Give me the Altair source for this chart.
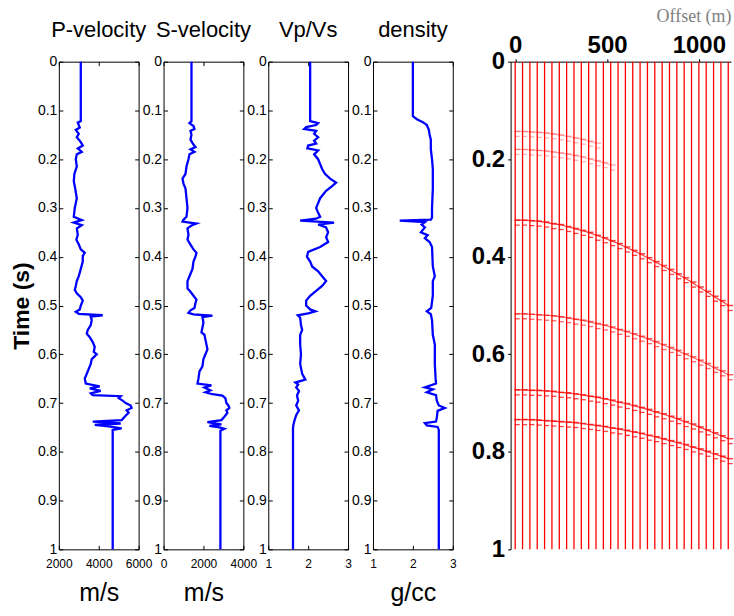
import altair as alt
import pandas as pd

# ---------------- data ----------------
time_ticks = [0, 0.1, 0.2, 0.3, 0.4, 0.5, 0.6, 0.7, 0.8, 0.9, 1.0]
seis_time_ticks = [0, 0.2, 0.4, 0.6, 0.8, 1.0]

p_time = [0.000, 0.122, 0.125, 0.135, 0.140, 0.148, 0.155, 0.165, 0.172, 0.178, 0.185, 0.190,
          0.200, 0.215, 0.230, 0.245, 0.260, 0.280, 0.300, 0.318, 0.325, 0.330, 0.335, 0.342,
          0.355, 0.365, 0.375, 0.385, 0.392, 0.398, 0.410, 0.425, 0.440, 0.450, 0.460, 0.468,
          0.475, 0.483, 0.490, 0.500, 0.508, 0.513, 0.517, 0.520, 0.523, 0.530, 0.540, 0.550,
          0.558, 0.565, 0.575, 0.585, 0.595, 0.600, 0.610, 0.620, 0.630, 0.640, 0.650, 0.660,
          0.666, 0.670, 0.675, 0.680, 0.684, 0.686, 0.690, 0.695, 0.700, 0.705, 0.710, 0.715,
          0.720, 0.728, 0.735, 0.738, 0.742, 0.745, 0.748, 0.752, 0.755, 1.000]
p_vel = [3100, 3100, 2950, 3050, 2850, 3000, 2900, 3100, 3200, 2950, 3150, 2900,
         2850, 2900, 2780, 2750, 2820, 2900, 2800, 2750, 3150, 2750, 3150, 2900,
         2950, 2880, 3000, 3100, 3300, 3200, 3200, 3100, 3000, 2900, 2850, 2800,
         2900, 3100, 3200, 3100, 3050, 2850, 3000, 4200, 3600, 3650, 3600, 3450,
         3400, 3550, 3700, 3800, 3750, 3900, 3650, 3600, 3500, 3400, 3300, 3350,
         4050, 3550, 4100, 3600, 3700, 5100, 5000, 5200, 5350, 5600, 5650, 5400,
         5500, 5300, 5150, 3700, 5100, 3800, 4500, 5150, 4700, 4700]

s_time = [0.000, 0.122, 0.126, 0.132, 0.138, 0.142, 0.150, 0.160, 0.170, 0.175, 0.180, 0.185,
          0.190, 0.200, 0.215, 0.230, 0.240, 0.250, 0.260, 0.280, 0.300, 0.318, 0.324, 0.328,
          0.332, 0.336, 0.342, 0.355, 0.365, 0.375, 0.385, 0.392, 0.400, 0.410, 0.425, 0.440,
          0.450, 0.465, 0.472, 0.480, 0.488, 0.495, 0.505, 0.510, 0.515, 0.518, 0.521, 0.524,
          0.535, 0.545, 0.555, 0.560, 0.570, 0.580, 0.590, 0.600, 0.610, 0.625, 0.635, 0.650,
          0.660, 0.664, 0.668, 0.674, 0.678, 0.682, 0.685, 0.690, 0.700, 0.705, 0.710, 0.715,
          0.720, 0.728, 0.735, 0.739, 0.744, 0.747, 0.750, 0.753, 0.757, 1.000]
s_vel = [1400, 1400, 1300, 1500, 1550, 1350, 1400, 1350, 1500, 1600, 1350, 1550,
         1300, 1250, 1150, 1100, 950, 1000, 1100, 1150, 1200, 1150, 1000, 950,
         1650, 1400, 1200, 1250, 1200, 1350, 1500, 1650, 1600, 1500, 1450, 1300,
         1200, 1200, 1350, 1500, 1650, 1600, 1550, 1350, 1250, 1500, 2450, 1950,
         2000, 1950, 1900, 2050, 2100, 2150, 2200, 2100, 2000, 1950, 1800, 1750,
         1700, 2400, 2050, 2350, 2100, 2450, 2950, 3100, 3150, 3250, 3300, 3150,
         3200, 3050, 2900, 2200, 2900, 2300, 2800, 3050, 2850, 2850]

r_time = [0.000, 0.122, 0.126, 0.130, 0.134, 0.138, 0.142, 0.148, 0.155, 0.162, 0.168, 0.172,
          0.178, 0.182, 0.190, 0.200, 0.210, 0.220, 0.230, 0.240, 0.248, 0.255, 0.265, 0.280,
          0.290, 0.300, 0.310, 0.318, 0.322, 0.326, 0.330, 0.334, 0.340, 0.350, 0.360, 0.370,
          0.380, 0.390, 0.400, 0.410, 0.420, 0.430, 0.440, 0.450, 0.460, 0.470, 0.480, 0.490,
          0.500, 0.508, 0.512, 0.516, 0.520, 0.525, 0.540, 0.550, 0.560, 0.580, 0.600, 0.620,
          0.640, 0.652, 0.658, 0.662, 0.668, 0.675, 0.685, 0.695, 0.705, 0.715, 0.725, 0.735,
          0.745, 0.752, 1.000]
r_val = [2.05, 2.05, 2.25, 2.20, 1.95, 1.90, 2.20, 2.15, 2.25, 2.15, 2.20, 2.00,
         1.98, 2.25, 2.15, 2.25, 2.30, 2.35, 2.42, 2.55, 2.70, 2.60, 2.45, 2.30,
         2.25, 2.20, 2.25, 2.30, 2.20, 1.80, 2.65, 2.25, 2.45, 2.50, 2.45, 2.50,
         2.30, 2.00, 1.97, 2.05, 2.10, 2.25, 2.35, 2.45, 2.35, 2.20, 2.05, 1.95,
         1.95, 2.05, 2.18, 2.00, 1.74, 1.80, 1.82, 1.85, 1.80, 1.80, 1.82, 1.80,
         1.85, 1.93, 1.68, 1.75, 1.70, 1.77, 1.72, 1.75, 1.70, 1.77, 1.70, 1.66,
         1.63, 1.62, 1.62]

d_time = [0.000, 0.112, 0.118, 0.124, 0.130, 0.140, 0.150, 0.160, 0.180, 0.200, 0.220, 0.260,
          0.300, 0.320, 0.324, 0.326, 0.329, 0.334, 0.340, 0.350, 0.356, 0.362, 0.370, 0.380,
          0.420, 0.440, 0.450, 0.480, 0.505, 0.512, 0.518, 0.530, 0.560, 0.580, 0.620, 0.650,
          0.660, 0.668, 0.672, 0.678, 0.684, 0.695, 0.705, 0.710, 0.716, 0.730, 0.738, 0.741,
          0.746, 0.749, 0.755, 1.000]
d_val = [2.00, 2.00, 2.10, 2.25, 2.35, 2.40, 2.42, 2.45, 2.45, 2.48, 2.50, 2.50,
         2.48, 2.48, 2.45, 1.67, 2.30, 2.22, 2.30, 2.20, 2.37, 2.30, 2.42, 2.48,
         2.50, 2.55, 2.50, 2.50, 2.46, 2.35, 2.45, 2.48, 2.50, 2.55, 2.55, 2.57,
         2.58, 2.30, 2.50, 2.35, 2.58, 2.60, 2.65, 2.80, 2.62, 2.60, 2.58, 2.30,
         2.35, 2.62, 2.65, 2.65]

trace_offsets = [0, 40, 80, 120, 160, 200, 240, 280, 320, 360, 400, 440, 480, 520, 560,
                 600, 640, 680, 720, 760, 800, 840, 880, 920, 960, 1000, 1040, 1080, 1120, 1160]

event_a = [0.325, 0.325, 0.326, 0.327, 0.329, 0.332, 0.334, 0.338, 0.342, 0.346, 0.350, 0.356,
           0.361, 0.367, 0.373, 0.380, 0.387, 0.394, 0.402, 0.410, 0.418, 0.426, 0.435, 0.443,
           0.452, 0.462, 0.471, 0.481, 0.490, 0.500]
event_b = [0.517, 0.517, 0.518, 0.519, 0.520, 0.521, 0.523, 0.525, 0.528, 0.530, 0.533, 0.537,
           0.540, 0.544, 0.549, 0.553, 0.558, 0.563, 0.568, 0.574, 0.580, 0.586, 0.592, 0.599,
           0.605, 0.612, 0.619, 0.627, 0.634, 0.642]
event_c = [0.673, 0.673, 0.674, 0.674, 0.675, 0.676, 0.678, 0.679, 0.681, 0.683, 0.686, 0.688,
           0.691, 0.694, 0.698, 0.701, 0.705, 0.709, 0.713, 0.718, 0.722, 0.727, 0.732, 0.738,
           0.743, 0.749, 0.755, 0.761, 0.767, 0.773]
event_d = [0.734, 0.734, 0.734, 0.735, 0.736, 0.737, 0.738, 0.739, 0.740, 0.742, 0.744, 0.746,
           0.748, 0.751, 0.753, 0.756, 0.759, 0.762, 0.766, 0.769, 0.773, 0.777, 0.781, 0.785,
           0.790, 0.794, 0.799, 0.804, 0.809, 0.814]
event_e1 = [0.143, 0.143, 0.144, 0.145, 0.146, 0.148, 0.150, 0.153, 0.156, 0.159, 0.163, 0.167]
event_e2 = [0.180, 0.180, 0.181, 0.182, 0.183, 0.185, 0.187, 0.189, 0.192, 0.195, 0.199, 0.203,
            0.207, 0.212]

# ---------------- styling ----------------
SANS = "'Liberation Sans', Arial, sans-serif"
SERIF = "'Liberation Serif', 'Times New Roman', serif"
BLUE = "#0000ff"
RED = "#ff0000"
PANEL_H = 489


def log_panel(times, vals, name, xdom, xticks, unit, first):
    df = pd.DataFrame({"t": times, "v": vals, "k": list(range(len(times)))})
    yargs = dict(values=time_ticks, format="~g", tickSize=4, offset=-4, domain=False, grid=False,
                 labelFont=SANS, labelFontSize=14, labelPadding=2, labelFlush=False,
                 labelOverlap=False)
    if first:
        yargs.update(title="Time (s)", titleFont=SANS, titleFontSize=23, titleFontWeight="bold",
                     titlePadding=4)
    else:
        yargs.update(title=None)
    xargs = dict(values=[float(v) for v in xticks], labelExpr="format(datum.value, 'd')",
                 tickSize=4, offset=-4, domain=False, grid=False,
                 labelFont=SANS, labelFontSize=12, labelPadding=9, labelFlush=False,
                 labelOverlap=False, labelBound=False)
    if unit:
        xargs.update(title=unit, titleFont=SANS, titleFontSize=25, titleFontWeight="normal",
                     titlePadding=11)
    else:
        xargs.update(title=None)
    xs = alt.Scale(domain=xdom, nice=False, zero=False)
    ys = alt.Scale(domain=[0, 1], reverse=True, nice=False, zero=False)
    line = alt.Chart(df).mark_line(color=BLUE, strokeWidth=2.3).encode(
        x=alt.X("v:Q", scale=xs, axis=alt.Axis(**xargs)),
        y=alt.Y("t:Q", scale=ys, axis=alt.Axis(**yargs)),
        order="k:Q",
    )
    mirror = alt.Chart(df).mark_line(opacity=0).encode(
        x=alt.X("v:Q", scale=xs, axis=alt.Axis(orient="top", values=xticks, labels=False, tickSize=4,
                                               offset=-4, domain=False, grid=False, title=None)),
        y=alt.Y("t:Q", scale=ys, axis=alt.Axis(orient="right", values=time_ticks, labels=False,
                                               tickSize=4, offset=-4, domain=False, grid=False,
                                               title=None)),
        order="k:Q",
    )
    return alt.layer(line, mirror).resolve_axis(x="independent", y="independent").properties(
        width=80, height=PANEL_H,
        title=alt.Title(name, font=SANS, fontSize=22, fontWeight="normal", offset=13, anchor="middle"),
    )


p_chart = log_panel(p_time, p_vel, "P-velocity", [2000, 6000], [2000, 4000, 6000], "m/s", True)
s_chart = log_panel(s_time, s_vel, "S-velocity", [0, 4000], [0, 2000, 4000], "m/s", False)
r_chart = log_panel(r_time, r_val, "Vp/Vs", [1, 3], [1, 2, 3], "", False)
d_chart = log_panel(d_time, d_val, "density", [1, 3], [1, 2, 3], "g/cc", False)

# empty gap column between the logs and the gather
spacer = alt.Chart(pd.DataFrame({"a": [0]})).mark_point(opacity=0).encode(
    x=alt.X("a:Q", axis=None), y=alt.Y("a:Q", axis=None)
).properties(width=8, height=PANEL_H, view=alt.ViewBackground(stroke="transparent"))

# ---------------- seismic gather ----------------
rows = []
for name, times, strength in [("A", event_a, 1.0), ("B", event_b, 0.8), ("C", event_c, 1.0),
                              ("D", event_d, 1.0), ("E1", event_e1, 0.4), ("E2", event_e2, 0.4)]:
    for off, t in zip(trace_offsets, times):
        rows.append({"event": name, "x": off, "t": t, "s": strength})
ev = pd.DataFrame(rows)
tr = pd.DataFrame({"x": trace_offsets})

sx = alt.Scale(domain=[-25, 1175], nice=False, zero=False)
sy = alt.Scale(domain=[0, 1], reverse=True, nice=False, zero=False)

traces = alt.Chart(tr).mark_rule(color=RED, strokeWidth=1.3).encode(
    x=alt.X("x:Q", scale=sx, axis=alt.Axis(
        orient="top", values=[0, 500, 1000], format="d", labelFont=SANS, labelFontSize=24,
        labelFontWeight="bold", tickSize=3, labelPadding=1, labelFlush=False, grid=False,
        domainColor="black", title="Offset (m)", titleFont=SERIF, titleFontSize=18,
        titleFontWeight="normal", titleColor="#808080", titleAnchor="end", titlePadding=8)),
)
ev_lines = alt.Chart(ev).mark_line(color=RED, strokeWidth=1.2).encode(
    x=alt.X("x:Q", scale=sx),
    y=alt.Y("t:Q", scale=sy, axis=alt.Axis(
        values=seis_time_ticks, format="~g", labelFont=SANS, labelFontSize=24, labelFontWeight="bold",
        tickSize=3, labelPadding=3, labelFlush=False, grid=False, domainColor="black", title=None)),
    detail="event:N",
    order="x:Q",
    opacity=alt.Opacity("s:Q", scale=alt.Scale(domain=[0, 1], range=[0, 0.75]), legend=None),
)
ev_ticks = alt.Chart(ev).mark_tick(color=RED, orient="horizontal", size=6, thickness=1.5, xOffset=2).encode(
    x=alt.X("x:Q", scale=sx),
    y=alt.Y("t:Q", scale=sy),
    opacity=alt.Opacity("s:Q", scale=alt.Scale(domain=[0, 1], range=[0, 1]), legend=None),
)
ev_ticks2 = alt.Chart(ev).mark_tick(color=RED, orient="horizontal", size=5, thickness=1.3,
                                    xOffset=2, yOffset=5).encode(
    x=alt.X("x:Q", scale=sx),
    y=alt.Y("t:Q", scale=sy),
    opacity=alt.Opacity("s:Q", scale=alt.Scale(domain=[0, 1], range=[0, 0.8]), legend=None),
)
seis = alt.layer(traces, ev_lines, ev_ticks, ev_ticks2).properties(
    width=221, height=PANEL_H, view=alt.ViewBackground(stroke="transparent"))

chart = alt.hconcat(p_chart, s_chart, r_chart, d_chart, spacer, seis, spacing=25, bounds="flush").properties(
    padding={"left": 10, "top": 6, "right": 0, "bottom": 0},
    background="white",
).configure_view(stroke="black", strokeWidth=1).configure_axis(
    labelColor="black", tickColor="black", titleColor="black", tickWidth=1
)

chart.save("out.html", embed_options={"renderer": "svg", "actions": False})
